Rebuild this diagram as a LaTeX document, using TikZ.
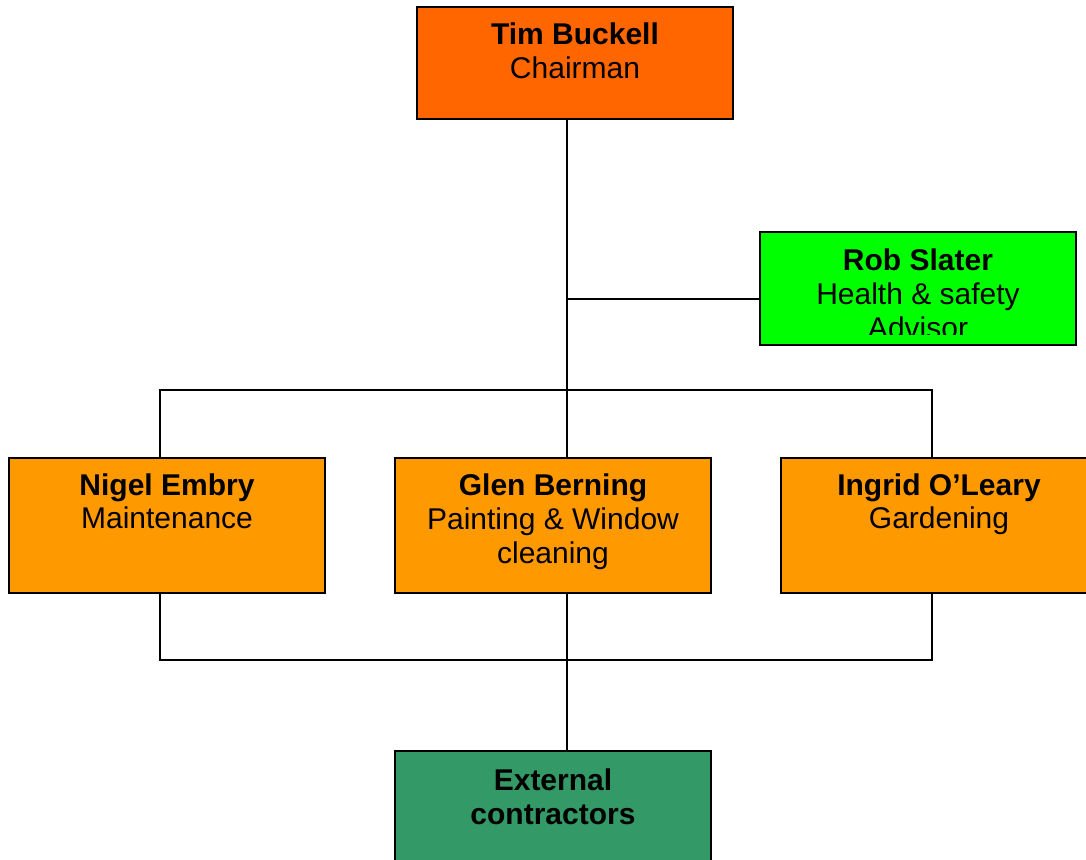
\documentclass[tikz,border=0pt]{standalone}
\usepackage{fontspec}
\setmainfont{Liberation Sans}
\definecolor{chair}{HTML}{FF6600}
\definecolor{hs}{HTML}{00FF00}
\definecolor{dept}{HTML}{FF9900}
\definecolor{extc}{HTML}{339966}
\tikzset{
  box/.style={draw=black, line width=1pt, rectangle, inner sep=0pt, outer sep=0pt,
    minimum width=158pt},
  lbl/.style={anchor=base, align=center, inner sep=0pt, font=\fontsize{15}{17}\selectfont},
  conn/.style={draw=black, line width=1pt}
}
\begin{document}
\begin{tikzpicture}[x=0.5pt,y=-0.5pt]
\useasboundingbox (0,0) rectangle (1086,860);
\clip (0,0) rectangle (1086,860);
% boxes
\node[box, fill=chair, minimum height=56pt] (tim) at (575,63) {};
\node[box, fill=hs, minimum height=56.5pt] (rob) at (918,288.5) {};
\node[box, fill=dept, minimum height=67.5pt] (nigel) at (167,525.5) {};
\node[box, fill=dept, minimum height=67.5pt] (glen) at (553,525.5) {};
\node[box, fill=dept, minimum height=67.5pt] (ingrid) at (939,525.5) {};
\node[box, fill=extc, minimum height=67.5pt] (ext) at (553,818.5) {};
% junction coordinates
\coordinate (spine) at (567,0);
\coordinate (rj) at (567,299);
\coordinate (bl) at (160,390);
\coordinate (br) at (932,390);
\coordinate (cl) at (160,660);
\coordinate (cr) at (932,660);
% connectors
\draw[conn] (tim.south -| spine) -- (glen.north -| spine);
\draw[conn] (rj) -- (rob.west |- rj);
\draw[conn] (nigel.north -| bl) -- (bl) -- (br) -- (ingrid.north -| br);
\draw[conn] (nigel.south -| cl) -- (cl) -- (cr) -- (ingrid.south -| cr);
\draw[conn] (glen.south -| spine) -- (ext.north -| spine);
% labels (base anchor = baseline of last line)
\node[lbl] (timt) at ([yshift=-36pt]tim.north) {\textbf{Tim Buckell}\\Chairman};
\begin{scope}
\clip (rob.north west) rectangle (rob.east |- 0,335);
\node[lbl] (robt) at ([yshift=-53.5pt]rob.north) {\textbf{Rob Slater}\\Health \& safety\\Advisor};
\end{scope}
\node[lbl] (nigelt) at ([yshift=-35.5pt]nigel.north) {\textbf{Nigel Embry}\\Maintenance};
\node[lbl] (glent) at ([yshift=-52.5pt]glen.north) {\textbf{Glen Berning}\\Painting \& Window\\cleaning};
\node[lbl] (ingridt) at ([yshift=-35.5pt]ingrid.north) {\textbf{Ingrid O’Leary}\\Gardening};
\node[lbl] (extt) at ([yshift=-36.5pt]ext.north) {\textbf{External}\\\textbf{contractors}};
\end{tikzpicture}
\end{document}
